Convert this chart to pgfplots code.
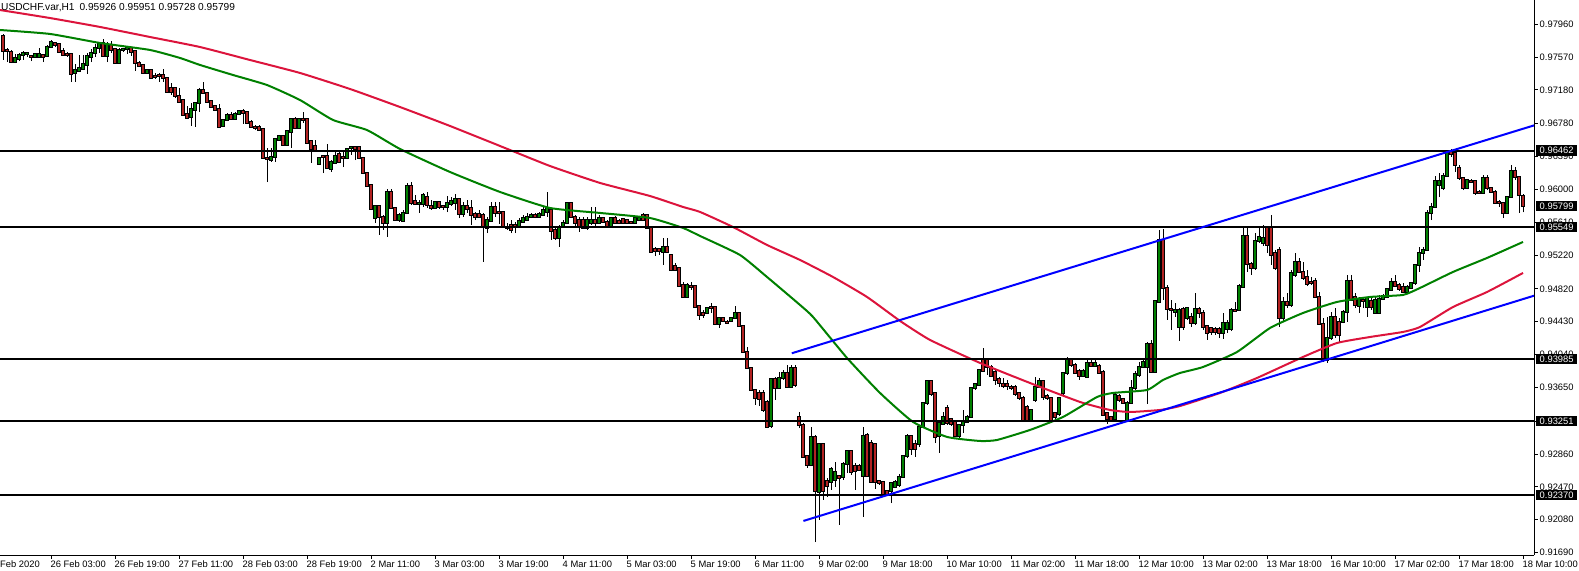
\documentclass[border=0pt]{standalone}
\usepackage{fontspec}
\setmainfont{Liberation Sans}
\usepackage{pgfplots}
\pgfplotsset{compat=1.18}
\usepackage{pgfplotstable}
\definecolor{bullc}{HTML}{008000}
\definecolor{bearc}{HTML}{B22222}
\definecolor{mared}{HTML}{DC143C}
\definecolor{magreen}{HTML}{008000}
\definecolor{trend}{HTML}{0000FF}
\newcommand\lbl{\fontsize{9.4}{11}\selectfont}
\newcommand\ttl{\fontsize{10.2}{12}\selectfont}

\pgfplotstableread{
x o h l c
3 0.97512 0.97607 0.97500 0.97560
4 0.97548 0.97619 0.97524 0.97595
5 0.97595 0.97643 0.97536 0.97619
6 0.97607 0.97619 0.97572 0.97619
8 0.97572 0.97619 0.97560 0.97607
9 0.97572 0.97678 0.97572 0.97607
11 0.97584 0.97714 0.97572 0.97690
12 0.97690 0.97773 0.97678 0.97750
18 0.97382 0.97489 0.97275 0.97417
19 0.97406 0.97595 0.97394 0.97441
20 0.97429 0.97595 0.97417 0.97489
21 0.97477 0.97619 0.97370 0.97584
22 0.97572 0.97667 0.97512 0.97619
23 0.97619 0.97726 0.97572 0.97678
24 0.97678 0.97750 0.97619 0.97726
26 0.97584 0.97750 0.97512 0.97726
29 0.97500 0.97678 0.97500 0.97655
30 0.97655 0.97678 0.97631 0.97667
31 0.97667 0.97690 0.97607 0.97678
36 0.97382 0.97429 0.97370 0.97417
47 0.96860 0.97026 0.96753 0.96955
48 0.96943 0.97038 0.96741 0.97026
49 0.97026 0.97204 0.96919 0.97180
55 0.96753 0.96836 0.96741 0.96824
56 0.96824 0.96907 0.96812 0.96883
58 0.96836 0.96919 0.96824 0.96895
59 0.96895 0.96943 0.96883 0.96931
67 0.96349 0.96492 0.96326 0.96385
68 0.96385 0.96611 0.96326 0.96599
69 0.96587 0.96646 0.96575 0.96634
71 0.96527 0.96705 0.96516 0.96694
72 0.96682 0.96836 0.96492 0.96836
74 0.96729 0.96848 0.96717 0.96836
79 0.96302 0.96385 0.96290 0.96373
82 0.96243 0.96349 0.96207 0.96326
83 0.96314 0.96468 0.96314 0.96397
86 0.96373 0.96492 0.96361 0.96480
87 0.96492 0.96516 0.96409 0.96504
93 0.95661 0.95816 0.95602 0.95804
96 0.95602 0.96005 0.95436 0.95970
99 0.95637 0.95721 0.95614 0.95697
100 0.95626 0.95756 0.95614 0.95721
101 0.95721 0.96077 0.95709 0.96041
104 0.95827 0.95875 0.95721 0.95839
105 0.95827 0.95958 0.95792 0.95934
108 0.95780 0.95851 0.95768 0.95851
111 0.95792 0.95922 0.95732 0.95839
112 0.95827 0.95910 0.95804 0.95863
113 0.95839 0.95946 0.95756 0.95887
115 0.95709 0.95851 0.95673 0.95804
121 0.95543 0.95673 0.95483 0.95637
122 0.95626 0.95851 0.95614 0.95792
129 0.95566 0.95661 0.95554 0.95626
130 0.95614 0.95697 0.95614 0.95661
131 0.95637 0.95721 0.95626 0.95673
132 0.95673 0.95721 0.95661 0.95697
134 0.95673 0.95732 0.95673 0.95709
135 0.95697 0.95792 0.95685 0.95756
136 0.95732 0.95970 0.95673 0.95780
139 0.95424 0.95578 0.95317 0.95554
140 0.95554 0.95637 0.95543 0.95602
141 0.95602 0.95839 0.95590 0.95839
146 0.95543 0.95673 0.95519 0.95637
147 0.95602 0.95792 0.95578 0.95637
149 0.95602 0.95697 0.95590 0.95661
152 0.95566 0.95673 0.95554 0.95661
158 0.95602 0.95673 0.95602 0.95661
159 0.95637 0.95673 0.95626 0.95661
165 0.95258 0.95424 0.95104 0.95317
171 0.94724 0.94890 0.94712 0.94866
176 0.94534 0.94605 0.94522 0.94593
179 0.94404 0.94487 0.94356 0.94475
182 0.94439 0.94487 0.94427 0.94475
183 0.94475 0.94617 0.94463 0.94534
192 0.93193 0.93763 0.93169 0.93751
194 0.93644 0.93834 0.93632 0.93763
195 0.93763 0.93858 0.93739 0.93822
197 0.93656 0.93917 0.93644 0.93881
202 0.92730 0.93181 0.92719 0.93063
204 0.92410 0.92991 0.92078 0.92980
207 0.92529 0.92707 0.92434 0.92683
208 0.92552 0.92766 0.92469 0.92647
210 0.92588 0.92766 0.92552 0.92742
211 0.92742 0.92908 0.92635 0.92896
215 0.92600 0.93181 0.92113 0.93075
222 0.92422 0.92529 0.92279 0.92517
223 0.92469 0.92552 0.92457 0.92529
224 0.92493 0.92624 0.92469 0.92588
225 0.92588 0.92849 0.92576 0.92837
226 0.92837 0.93098 0.92813 0.93075
229 0.92980 0.93193 0.92944 0.93181
230 0.93181 0.93478 0.93169 0.93466
231 0.93466 0.93739 0.93442 0.93727
234 0.93075 0.93264 0.92873 0.93229
235 0.93217 0.93359 0.93205 0.93300
239 0.93075 0.93217 0.93051 0.93205
240 0.93205 0.93383 0.93110 0.93241
241 0.93241 0.93324 0.93229 0.93300
242 0.93300 0.93656 0.93288 0.93644
243 0.93644 0.93703 0.93620 0.93691
244 0.93680 0.93869 0.93668 0.93858
257 0.93264 0.93395 0.93252 0.93383
258 0.93502 0.93775 0.93478 0.93656
259 0.93656 0.93763 0.93644 0.93727
264 0.93336 0.93537 0.93312 0.93525
265 0.93585 0.93834 0.93549 0.93822
266 0.93822 0.94012 0.93798 0.93988
270 0.93786 0.93869 0.93775 0.93846
271 0.93775 0.93988 0.93763 0.93941
273 0.93905 0.93976 0.93893 0.93941
278 0.93276 0.93585 0.93264 0.93561
281 0.93264 0.93490 0.93252 0.93466
282 0.93466 0.93739 0.93454 0.93644
283 0.93644 0.93846 0.93620 0.93810
284 0.93798 0.93953 0.93775 0.93893
285 0.93893 0.94000 0.93881 0.93953
286 0.93893 0.94190 0.93454 0.94166
288 0.93834 0.94688 0.93834 0.94676
289 0.94665 0.95519 0.94665 0.95400
293 0.94546 0.94653 0.94487 0.94570
294 0.94368 0.94593 0.94202 0.94570
296 0.94475 0.94605 0.94451 0.94593
298 0.94415 0.94771 0.94392 0.94582
305 0.94297 0.94534 0.94226 0.94415
306 0.94344 0.94451 0.94297 0.94415
307 0.94344 0.94593 0.94320 0.94570
309 0.94570 0.94878 0.94558 0.94854
310 0.94843 0.95554 0.94843 0.95448
313 0.95068 0.95483 0.95044 0.95388
314 0.95388 0.95554 0.95365 0.95436
315 0.95365 0.95578 0.95329 0.95424
320 0.94475 0.94724 0.94439 0.94665
322 0.94629 0.95044 0.94605 0.95009
323 0.94985 0.95246 0.94961 0.95139
331 0.93976 0.94487 0.93941 0.94237
332 0.94237 0.94546 0.94214 0.94487
335 0.94427 0.94570 0.94415 0.94546
336 0.94546 0.94985 0.94427 0.94914
339 0.94617 0.94724 0.94534 0.94700
341 0.94605 0.94724 0.94487 0.94712
343 0.94534 0.94724 0.94534 0.94688
344 0.94534 0.94748 0.94534 0.94700
345 0.94700 0.94760 0.94688 0.94736
346 0.94724 0.94831 0.94712 0.94819
347 0.94807 0.94949 0.94795 0.94902
351 0.94783 0.94866 0.94771 0.94843
352 0.94831 0.94902 0.94819 0.94890
353 0.94890 0.95116 0.94866 0.95104
354 0.95104 0.95317 0.95021 0.95246
355 0.95246 0.95317 0.95163 0.95282
356 0.95282 0.95756 0.95270 0.95721
357 0.95721 0.95839 0.95637 0.95792
358 0.95792 0.96160 0.95780 0.96100
359 0.96053 0.96195 0.95910 0.96100
360 0.96017 0.96195 0.95993 0.96160
361 0.96160 0.96468 0.96148 0.96444
366 0.96017 0.96124 0.96005 0.96112
370 0.95958 0.96172 0.95946 0.96136
376 0.95721 0.95922 0.95721 0.95910
377 0.95910 0.96290 0.95899 0.96219
}\bull

\pgfplotstableread{
x o h l c
0 0.97821 0.97845 0.97536 0.97643
1 0.97655 0.97678 0.97512 0.97643
2 0.97631 0.97655 0.97500 0.97512
7 0.97584 0.97595 0.97524 0.97572
10 0.97595 0.97595 0.97512 0.97572
13 0.97738 0.97750 0.97690 0.97714
14 0.97726 0.97738 0.97619 0.97631
15 0.97643 0.97678 0.97584 0.97595
16 0.97607 0.97631 0.97572 0.97595
17 0.97607 0.97619 0.97275 0.97370
25 0.97738 0.97785 0.97572 0.97584
27 0.97714 0.97761 0.97619 0.97655
28 0.97667 0.97678 0.97500 0.97500
32 0.97678 0.97690 0.97584 0.97631
33 0.97643 0.97655 0.97406 0.97500
34 0.97500 0.97524 0.97453 0.97465
35 0.97477 0.97489 0.97370 0.97382
37 0.97417 0.97429 0.97311 0.97323
38 0.97346 0.97382 0.97311 0.97334
39 0.97358 0.97382 0.97275 0.97346
40 0.97358 0.97429 0.97275 0.97323
41 0.97323 0.97334 0.97156 0.97156
42 0.97204 0.97263 0.97121 0.97156
43 0.97204 0.97204 0.97085 0.97109
44 0.97109 0.97204 0.97038 0.97038
45 0.97061 0.97073 0.96872 0.96883
46 0.96895 0.96990 0.96836 0.96848
50 0.97180 0.97275 0.97145 0.97145
51 0.97145 0.97156 0.97038 0.97038
52 0.97050 0.97061 0.96978 0.96978
53 0.96990 0.97002 0.96931 0.96943
54 0.96955 0.97014 0.96741 0.96741
57 0.96883 0.96919 0.96824 0.96836
60 0.96931 0.96955 0.96777 0.96907
61 0.96919 0.96931 0.96789 0.96789
62 0.96800 0.96824 0.96741 0.96741
63 0.96741 0.96765 0.96705 0.96729
64 0.96741 0.96765 0.96694 0.96705
65 0.96717 0.96729 0.96361 0.96373
66 0.96373 0.96492 0.96088 0.96361
70 0.96634 0.96646 0.96516 0.96527
73 0.96836 0.96860 0.96717 0.96729
75 0.96836 0.96919 0.96789 0.96824
76 0.96836 0.96836 0.96551 0.96551
77 0.96575 0.96587 0.96314 0.96480
78 0.96516 0.96587 0.96456 0.96468
80 0.96397 0.96409 0.96195 0.96385
81 0.96397 0.96539 0.96243 0.96255
84 0.96421 0.96456 0.96314 0.96326
85 0.96385 0.96444 0.96266 0.96373
88 0.96504 0.96516 0.96349 0.96480
89 0.96504 0.96516 0.96361 0.96373
90 0.96373 0.96385 0.96183 0.96195
91 0.96195 0.96195 0.96029 0.96041
92 0.96053 0.96065 0.95756 0.95768
94 0.95804 0.95816 0.95460 0.95673
95 0.95673 0.95697 0.95519 0.95602
97 0.95970 0.96005 0.95768 0.95780
98 0.95780 0.95792 0.95626 0.95637
102 0.96041 0.96088 0.95816 0.95839
103 0.95863 0.95934 0.95816 0.95827
106 0.95910 0.95970 0.95780 0.95816
107 0.95804 0.95875 0.95756 0.95780
109 0.95851 0.95851 0.95768 0.95792
110 0.95804 0.95816 0.95756 0.95792
114 0.95887 0.95899 0.95661 0.95709
116 0.95804 0.95875 0.95721 0.95768
117 0.95780 0.95875 0.95578 0.95697
118 0.95709 0.95732 0.95637 0.95673
119 0.95709 0.95756 0.95661 0.95673
120 0.95697 0.95721 0.95139 0.95554
123 0.95792 0.95851 0.95673 0.95721
124 0.95732 0.95851 0.95590 0.95721
125 0.95732 0.95744 0.95543 0.95554
126 0.95554 0.95602 0.95519 0.95543
127 0.95578 0.95637 0.95483 0.95519
128 0.95578 0.95614 0.95483 0.95554
133 0.95697 0.95721 0.95661 0.95673
137 0.95756 0.95768 0.95400 0.95507
138 0.95519 0.95543 0.95400 0.95424
142 0.95839 0.95839 0.95673 0.95673
143 0.95673 0.95697 0.95554 0.95602
144 0.95637 0.95673 0.95495 0.95554
145 0.95637 0.95673 0.95531 0.95543
148 0.95637 0.95792 0.95543 0.95602
150 0.95661 0.95673 0.95602 0.95614
151 0.95614 0.95637 0.95543 0.95566
153 0.95661 0.95685 0.95602 0.95602
154 0.95626 0.95649 0.95602 0.95602
155 0.95649 0.95661 0.95590 0.95602
156 0.95637 0.95649 0.95590 0.95602
157 0.95614 0.95626 0.95590 0.95602
160 0.95697 0.95721 0.95626 0.95637
161 0.95697 0.95709 0.95531 0.95543
162 0.95554 0.95554 0.95258 0.95258
163 0.95294 0.95317 0.95210 0.95270
164 0.95294 0.95305 0.95222 0.95270
166 0.95317 0.95424 0.95246 0.95258
167 0.95222 0.95234 0.95032 0.95044
168 0.95092 0.95127 0.95032 0.95044
169 0.95068 0.95080 0.94843 0.94854
170 0.94866 0.94902 0.94712 0.94724
172 0.94854 0.94902 0.94807 0.94843
173 0.94854 0.94866 0.94605 0.94605
174 0.94617 0.94629 0.94451 0.94510
175 0.94534 0.94570 0.94475 0.94510
177 0.94605 0.94653 0.94534 0.94593
178 0.94605 0.94617 0.94392 0.94404
180 0.94475 0.94487 0.94427 0.94439
181 0.94427 0.94451 0.94404 0.94415
184 0.94534 0.94534 0.94368 0.94380
185 0.94380 0.94392 0.94071 0.94071
186 0.94071 0.94131 0.93869 0.93881
187 0.93881 0.93893 0.93608 0.93620
188 0.93620 0.93632 0.93442 0.93525
189 0.93585 0.93620 0.93430 0.93514
190 0.93585 0.93620 0.93359 0.93383
191 0.93478 0.93502 0.93169 0.93181
193 0.93751 0.93775 0.93502 0.93644
196 0.93822 0.93917 0.93644 0.93656
198 0.93881 0.93917 0.93656 0.93680
199 0.93300 0.93359 0.93169 0.93205
200 0.93205 0.93229 0.92813 0.92825
201 0.92837 0.92849 0.92695 0.92730
203 0.93063 0.93086 0.91816 0.92422
205 0.92980 0.92991 0.92315 0.92422
206 0.92540 0.92576 0.92351 0.92481
209 0.92600 0.92612 0.92018 0.92576
212 0.92896 0.92908 0.92612 0.92647
213 0.92719 0.92754 0.92434 0.92659
214 0.92719 0.92742 0.92659 0.92671
216 0.93086 0.93110 0.92588 0.92600
217 0.92991 0.93027 0.92529 0.92529
218 0.92980 0.92991 0.92446 0.92529
219 0.92540 0.92552 0.92493 0.92517
220 0.92529 0.92540 0.92363 0.92386
221 0.92422 0.92434 0.92363 0.92386
227 0.93075 0.93086 0.92849 0.92920
228 0.92980 0.93027 0.92825 0.92920
232 0.93727 0.93739 0.93549 0.93573
233 0.93585 0.93597 0.92991 0.93063
236 0.93407 0.93442 0.93205 0.93229
237 0.93276 0.93288 0.93193 0.93217
238 0.93241 0.93264 0.93063 0.93075
245 0.93988 0.94119 0.93834 0.93846
246 0.93988 0.94000 0.93798 0.93893
247 0.93893 0.93917 0.93775 0.93786
248 0.93834 0.93858 0.93680 0.93739
249 0.93751 0.93775 0.93656 0.93703
250 0.93691 0.93763 0.93644 0.93668
251 0.93691 0.93739 0.93620 0.93668
252 0.93656 0.93680 0.93620 0.93644
253 0.93656 0.93680 0.93549 0.93573
254 0.93585 0.93597 0.93502 0.93525
255 0.93525 0.93549 0.93252 0.93264
256 0.93419 0.93442 0.93252 0.93264
260 0.93727 0.93739 0.93502 0.93537
261 0.93549 0.93573 0.93502 0.93525
262 0.93525 0.93537 0.93252 0.93264
263 0.93347 0.93359 0.93252 0.93300
267 0.93988 0.94000 0.93893 0.93917
268 0.93917 0.93941 0.93810 0.93822
269 0.93846 0.93869 0.93739 0.93786
272 0.93941 0.93976 0.93893 0.93905
274 0.93905 0.93929 0.93810 0.93822
275 0.93834 0.93858 0.93312 0.93324
276 0.93347 0.93359 0.93217 0.93276
277 0.93300 0.93312 0.93252 0.93264
279 0.93549 0.93573 0.93478 0.93502
280 0.93514 0.93525 0.93454 0.93466
287 0.94166 0.94214 0.93834 0.93834
290 0.95400 0.95531 0.94688 0.94831
291 0.94831 0.94866 0.94451 0.94582
292 0.94582 0.94688 0.94332 0.94570
295 0.94582 0.94605 0.94332 0.94368
297 0.94487 0.94534 0.94368 0.94415
299 0.94582 0.94605 0.94475 0.94534
300 0.94534 0.94570 0.94332 0.94368
301 0.94380 0.94392 0.94214 0.94297
302 0.94356 0.94368 0.94273 0.94309
303 0.94344 0.94368 0.94273 0.94309
304 0.94344 0.94368 0.94237 0.94297
308 0.94570 0.94665 0.94546 0.94558
311 0.95448 0.95554 0.95021 0.95116
312 0.95116 0.95139 0.94985 0.95068
316 0.95554 0.95566 0.95246 0.95341
317 0.95554 0.95697 0.95104 0.95222
318 0.95246 0.95282 0.95044 0.95068
319 0.95282 0.95317 0.94368 0.94475
321 0.94665 0.94771 0.94593 0.94629
324 0.95139 0.95187 0.95009 0.95021
325 0.95021 0.95139 0.94926 0.94949
326 0.94961 0.95044 0.94854 0.94878
327 0.94902 0.94961 0.94866 0.94890
328 0.94914 0.94949 0.94712 0.94724
329 0.94724 0.94783 0.94392 0.94404
330 0.94404 0.94475 0.93953 0.93976
333 0.94487 0.94593 0.94237 0.94273
334 0.94427 0.94475 0.94178 0.94273
337 0.94914 0.94985 0.94676 0.94688
338 0.94724 0.94771 0.94593 0.94629
340 0.94688 0.94724 0.94593 0.94676
342 0.94676 0.94712 0.94570 0.94605
348 0.94902 0.94985 0.94843 0.94854
349 0.94866 0.94890 0.94795 0.94819
350 0.94843 0.94890 0.94771 0.94783
362 0.96444 0.96480 0.96385 0.96421
363 0.96433 0.96468 0.96207 0.96290
364 0.96255 0.96290 0.96112 0.96136
365 0.96136 0.96148 0.95993 0.96017
367 0.96100 0.96124 0.96077 0.96088
368 0.96100 0.96112 0.95934 0.95958
369 0.95970 0.95993 0.95946 0.95958
371 0.96136 0.96172 0.95993 0.96017
372 0.96017 0.96029 0.95958 0.95970
373 0.95970 0.95993 0.95839 0.95839
374 0.95851 0.95875 0.95792 0.95839
375 0.95839 0.95851 0.95661 0.95721
378 0.96219 0.96266 0.96112 0.96148
379 0.96148 0.96160 0.95721 0.95934
380 0.95926 0.95951 0.95728 0.95799
}\bear

\pgfplotsset{
  candlebase/.style={draw=none, mark=none, forget plot,
    error bars/y dir=plus, error bars/y explicit, error bars/error mark=none},
  wick/.style={candlebase,
    error bars/error bar style={draw=black, line width=1bp, line cap=butt}},
  bodyout/.style={candlebase,
    error bars/error bar style={draw=black, line width=3.2bp, line cap=butt,
      shorten <=-0.6bp, shorten >=-0.6bp}},
  bodyin/.style={candlebase,
    error bars/error bar style={draw=#1, line width=1.2bp, line cap=butt,
      shorten <=0.4bp, shorten >=0.4bp}},
}
\tikzset{
  pricebox/.style={fill=black, text=white, anchor=west, inner xsep=3.8bp,
    inner ysep=1.7bp, font=\lbl, xshift=1.7bp},
}

\begin{document}
\begin{tikzpicture}
\begin{axis}[
  at={(0bp,16bp)}, anchor=south west,
  scale only axis, width=1534bp, height=555bp,
  xmin=-0.75, xmax=382.75, ymin=0.91662, ymax=0.98248,
  clip mode=individual,
  axis x line*=bottom, axis y line*=right,
  axis line style={black, line width=1bp},
  tick align=outside, major tick length=3.5bp,
  tick style={black, line width=1bp},
  xtick={12,28,44,60,76,92,108,124,140,156,172,188,204,220,236,252,268,284,300,316,332,348,364,380},
  xticklabels={26 Feb 03:00,26 Feb 19:00,27 Feb 11:00,28 Feb 03:00,28 Feb 19:00,2 Mar 11:00,3 Mar 03:00,3 Mar 19:00,4 Mar 11:00,5 Mar 03:00,5 Mar 19:00,6 Mar 11:00,9 Mar 02:00,9 Mar 18:00,10 Mar 10:00,11 Mar 02:00,11 Mar 18:00,12 Mar 10:00,13 Mar 02:00,13 Mar 18:00,16 Mar 10:00,17 Mar 02:00,17 Mar 18:00,18 Mar 10:00},
  ytick={0.9169,0.9208,0.9247,0.9286,0.9325,0.9365,0.9404,0.9443,0.9482,0.9522,0.9561,0.9600,0.9639,0.9678,0.9718,0.9757,0.9796},
  yticklabels={0.91690,0.92080,0.92470,0.92860,0.93250,0.93650,0.94040,0.94430,0.94820,0.95220,0.95610,0.96000,0.96390,0.96780,0.97180,0.97570,0.97960},
  tick label style={font=\lbl, black},
  xticklabel style={anchor=north west, inner sep=0pt, xshift=-0.5bp, yshift=-2bp},
  yticklabel style={anchor=west, inner sep=0pt, xshift=2bp},
]
% wicks
\addplot[wick] table[x=x, y=l, y error plus expr=\thisrow{h}-\thisrow{l}] {\bull};
\addplot[wick] table[x=x, y=l, y error plus expr=\thisrow{h}-\thisrow{l}] {\bear};
% bodies
\addplot[bodyout] table[x=x, y=o, y error plus expr=\thisrow{c}-\thisrow{o}] {\bull};
\addplot[bodyout] table[x=x, y=c, y error plus expr=\thisrow{o}-\thisrow{c}] {\bear};
\addplot[bodyin=bullc] table[x=x, y=o, y error plus expr=\thisrow{c}-\thisrow{o}] {\bull};
\addplot[bodyin=bearc] table[x=x, y=c, y error plus expr=\thisrow{o}-\thisrow{c}] {\bear};

% moving averages
\addplot[mared, line width=2bp, smooth, tension=0.3] coordinates {
(-0.75,0.98129) (11.75,0.98034) (24.25,0.97928) (36.75,0.97809) (49.25,0.97690)
(61.75,0.97536) (74.25,0.97382) (86.75,0.97192) (99.25,0.96978) (111.75,0.96753)
(126.75,0.96468) (136.75,0.96278) (149.25,0.96077) (161.75,0.95922) (170,0.95792)
(174.25,0.95733) (182.5,0.95554) (191,0.95341) (199.25,0.95163) (207.5,0.94961)
(216,0.94724) (224.25,0.94440) (231.75,0.94214) (244.25,0.93941) (256.75,0.93703)
(269.25,0.93478) (276.75,0.93383) (281.75,0.93359) (289.25,0.93383) (294.25,0.93430)
(304.25,0.93585) (313.5,0.93763) (325,0.94012) (333.5,0.94178) (341.75,0.94249)
(350,0.94309) (354.25,0.94368) (362.5,0.94605) (371,0.94783) (380,0.95009)};
\addplot[magreen, line width=2bp, smooth, tension=0.3] coordinates {
(-0.75,0.97892) (11.75,0.97845) (24.25,0.97738) (36.75,0.97655) (44.25,0.97560)
(49.25,0.97477) (57.5,0.97358) (66,0.97239) (74.25,0.97061) (82.5,0.96824)
(91,0.96705) (99.25,0.96480) (111.75,0.96207) (124.25,0.95970) (136.75,0.95780)
(149.25,0.95721) (161.75,0.95661) (170,0.95543) (174.25,0.95448) (184.25,0.95222)
(191,0.94961) (194.25,0.94831) (199.25,0.94629) (202.5,0.94487) (211,0.94000)
(219.25,0.93585) (227.5,0.93241) (236,0.93063) (244.25,0.93015) (248.5,0.93027)
(256.75,0.93146) (265,0.93300) (273.5,0.93537) (277.5,0.93585) (286,0.93620)
(290,0.93739) (294.25,0.93822) (300,0.93893) (308.5,0.94071) (316.75,0.94356)
(325,0.94534) (333.5,0.94665) (341.75,0.94724) (350,0.94748) (354.25,0.94831)
(362.5,0.95021) (371,0.95187) (380,0.95377)};

% horizontal levels
\addplot[black, line width=2bp] coordinates {(-1,0.96462) (384,0.96462)};
\addplot[black, line width=2bp] coordinates {(-1,0.95549) (384,0.95549)};
\addplot[black, line width=2bp] coordinates {(-1,0.93985) (384,0.93985)};
\addplot[black, line width=2bp] coordinates {(-1,0.93251) (384,0.93251)};
\addplot[black, line width=2bp] coordinates {(-1,0.92370) (384,0.92370)};

% trend channel
\addplot[trend, line width=2bp] coordinates {(197.2,0.94056) (382.75,0.96760)};
\addplot[trend, line width=2bp] coordinates {(200.1,0.92066) (382.75,0.94739)};

% texts
\node[anchor=north west, inner sep=0pt, font=\ttl, xshift=1bp, yshift=-3bp]
  at (rel axis cs:0,1) {USDCHF.var,H1\hspace{5bp}0.95926 0.95951 0.95728 0.95799};
\node[anchor=north west, inner sep=0pt, font=\lbl, yshift=-5.5bp]
  at (rel axis cs:0,0) {Feb 2020};
\node[pricebox] at (axis cs:382.75,0.96462) {0.96462};
\node[pricebox] at (axis cs:382.75,0.95799) {0.95799};
\node[pricebox] at (axis cs:382.75,0.95549) {0.95549};
\node[pricebox] at (axis cs:382.75,0.93985) {0.93985};
\node[pricebox] at (axis cs:382.75,0.93251) {0.93251};
\node[pricebox] at (axis cs:382.75,0.92370) {0.92370};
\end{axis}
\pgfresetboundingbox
\path[use as bounding box] (0,0) rectangle (1579bp,571bp);
\end{tikzpicture}
\end{document}
